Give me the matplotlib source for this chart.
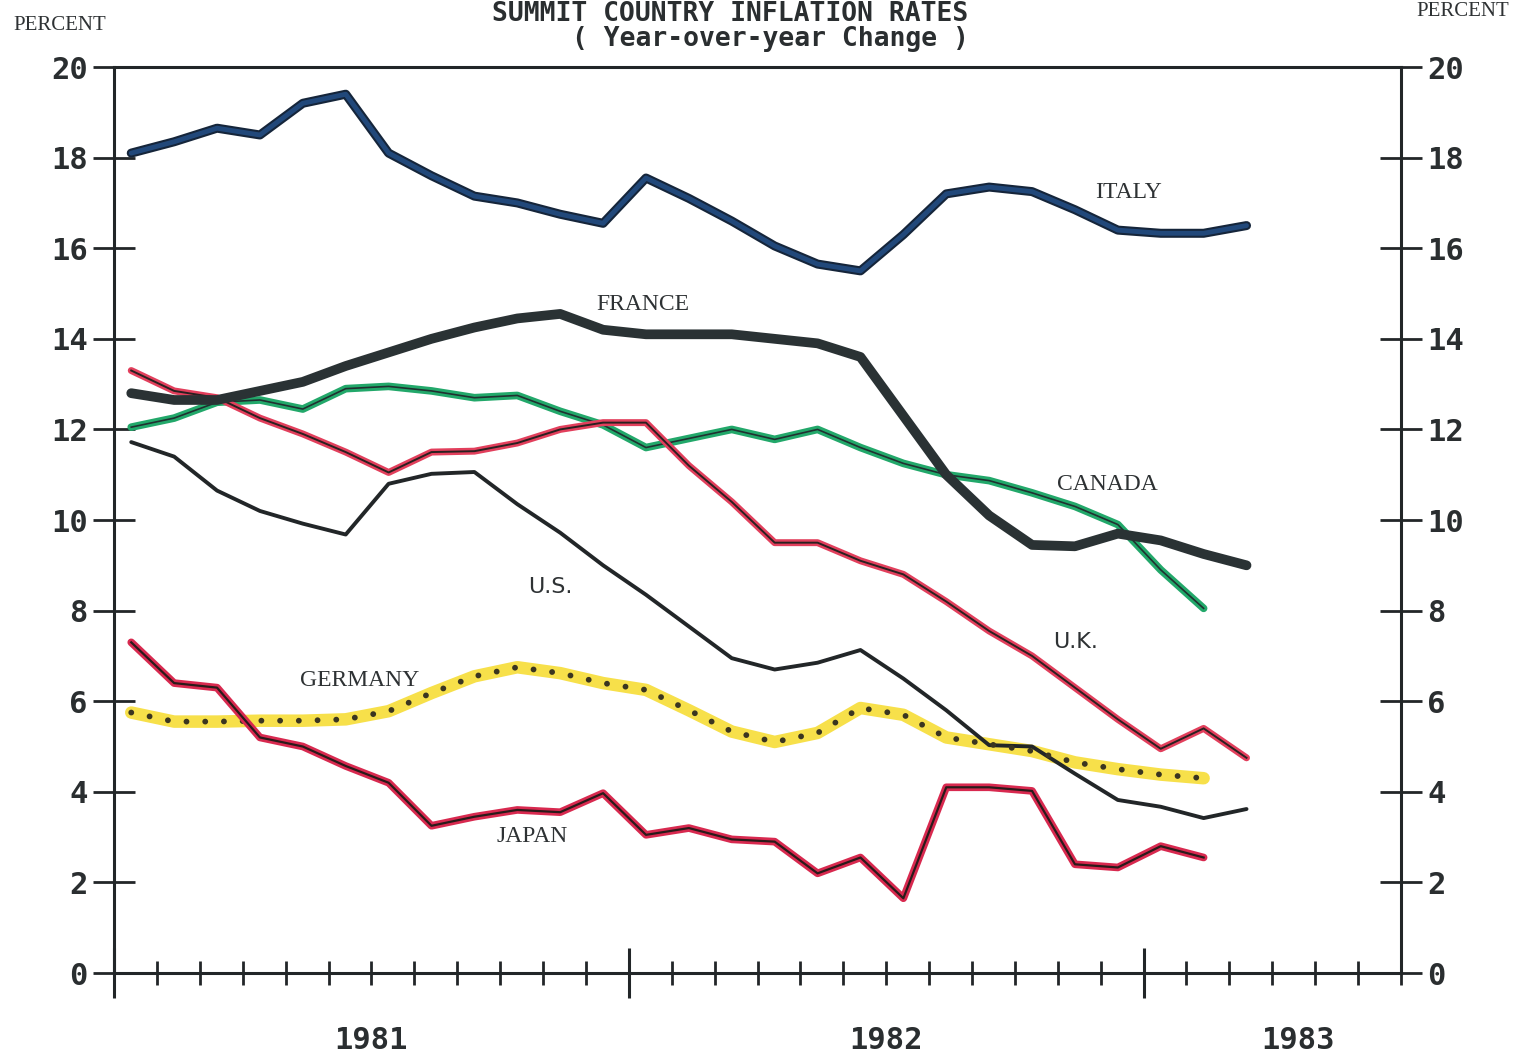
import numpy as np
import matplotlib
matplotlib.use("Agg")
import matplotlib.pyplot as plt
from matplotlib.ticker import MultipleLocator, FixedLocator, NullFormatter
import matplotlib.transforms as mtransforms

# ---- data (year-over-year % change, monthly from Jan 1981) ----
italy = [18.1, 18.35, 18.65, 18.5, 19.2, 19.4, 18.1, 17.6, 17.15, 17.0, 16.75, 16.55,
         17.55, 17.1, 16.6, 16.05, 15.65, 15.5, 16.3, 17.2, 17.35, 17.25, 16.85, 16.4,
         16.33, 16.33, 16.5]
france = [12.8, 12.65, 12.65, 12.85, 13.05, 13.4, 13.7, 14.0, 14.25, 14.45, 14.55, 14.2,
          14.1, 14.1, 14.1, 14.0, 13.9, 13.6, 12.3, 11.0, 10.1, 9.45, 9.42, 9.7,
          9.55, 9.25, 9.0]
canada = [12.05, 12.25, 12.6, 12.65, 12.45, 12.9, 12.95, 12.85, 12.7, 12.75, 12.4, 12.1,
          11.6, 11.8, 12.0, 11.78, 12.0, 11.6, 11.25, 11.0, 10.87, 10.6, 10.3, 9.9,
          8.9, 8.05]
uk = [13.3, 12.85, 12.7, 12.25, 11.9, 11.5, 11.05, 11.5, 11.52, 11.7, 12.0, 12.15,
      12.15, 11.2, 10.4, 9.5, 9.5, 9.1, 8.8, 8.2, 7.55, 7.0, 6.3, 5.6,
      4.95, 5.4, 4.75]
us = [11.72, 11.4, 10.65, 10.2, 9.92, 9.68, 10.8, 11.02, 11.06, 10.35, 9.72, 9.0,
      8.35, 7.65, 6.95, 6.7, 6.85, 7.13, 6.5, 5.8, 5.03, 5.0, 4.4, 3.82,
      3.67, 3.42, 3.62]
germany = [5.75, 5.55, 5.55, 5.57, 5.57, 5.6, 5.78, 6.18, 6.55, 6.75, 6.62, 6.4,
           6.25, 5.8, 5.33, 5.1, 5.3, 5.85, 5.7, 5.2, 5.05, 4.9, 4.65, 4.5,
           4.38, 4.3]
japan = [7.3, 6.4, 6.3, 5.2, 5.0, 4.57, 4.2, 3.25, 3.45, 3.6, 3.55, 3.97,
         3.05, 3.2, 2.95, 2.9, 2.2, 2.55, 1.65, 4.1, 4.1, 4.02, 2.4, 2.33,
         2.8, 2.55]

start_year = 1981
year_labels = ["1981", "1982", "1983"]
y_ticks = list(range(0, 21, 2))


def months(n):
    # position of each monthly observation on a decimal-year axis
    return start_year + (np.arange(n) + 0.4) / 12.0


fig = plt.figure(figsize=(15.17, 10.59), dpi=100)
fig.patch.set_facecolor("white")
ax = fig.add_axes([0.0752, 0.0812, 0.8483, 0.8555])
ax.set_xlim(1981.0, 1983.5)
ax.set_ylim(0, 20)

ink = "#222628"

# Italy
ax.plot(months(len(italy)), italy, color="#15253a", lw=6.5, solid_capstyle="round", zorder=3)
ax.plot(months(len(italy)), italy, color="#21487a", lw=3.5, solid_capstyle="round", zorder=3)
# France
ax.plot(months(len(france)), france, color="#2a3234", lw=7, solid_capstyle="round", zorder=4)
# Canada
ax.plot(months(len(canada)), canada, color="#22a86a", lw=5.5, solid_capstyle="round", zorder=3)
ax.plot(months(len(canada)), canada, color="#203030", lw=1.2, zorder=3)
# U.K.
ax.plot(months(len(uk)), uk, color="#e23f5c", lw=5, solid_capstyle="round", zorder=3)
ax.plot(months(len(uk)), uk, color="#2a2020", lw=1.4, zorder=3)
# U.S.
ax.plot(months(len(us)), us, color=ink, lw=2.8, solid_capstyle="round", zorder=3)
# Germany
ax.plot(months(len(germany)), germany, color="#f7e04a", lw=9, solid_capstyle="round", zorder=2)
ax.plot(months(len(germany)), germany, color="#3a3520", lw=4.2,
        linestyle=(0, (0.01, 3.2)), dash_capstyle="round", zorder=3)
# Japan
ax.plot(months(len(japan)), japan, color="#d8294f", lw=5.5, solid_capstyle="round", zorder=3)
ax.plot(months(len(japan)), japan, color="#2a1a1a", lw=1.6, zorder=3)

# ---- axes styling ----
for s in ax.spines.values():
    s.set_linewidth(2.2)
    s.set_color(ink)

ax.yaxis.set_major_locator(FixedLocator(y_ticks))
ax.tick_params(axis="y", which="major", direction="inout", length=30, width=2,
               color=ink, left=True, right=True, labelleft=True, labelright=True, pad=4)
for lab in ax.get_yticklabels():
    lab.set_fontfamily("DejaVu Sans Mono")
    lab.set_fontweight("bold")
    lab.set_fontsize(22)
    lab.set_color("#2a2e30")

ax.xaxis.set_major_locator(FixedLocator([1981, 1982, 1983]))
ax.xaxis.set_minor_locator(MultipleLocator(1 / 12))
ax.xaxis.set_major_formatter(NullFormatter())
ax.tick_params(axis="x", which="major", direction="inout", length=36, width=2.2, color=ink)
ax.tick_params(axis="x", which="minor", direction="inout", length=17, width=2, color=ink)
ax.tick_params(axis="x", which="both", top=False)

trans = mtransforms.blended_transform_factory(ax.transData, ax.transAxes)
for lab, xpos in zip(year_labels, [1981.5, 1982.5, 1983.3]):
    ax.text(xpos, -0.074, lab, transform=trans, ha="center", va="center",
            fontsize=22, fontweight="bold", family="DejaVu Sans Mono", color="#2a2e30")

# ---- series labels ----
serif = "Liberation Serif"
lab_color = "#2e3234"


def px(xp, yp):
    return xp / 1517, 1 - yp / 1059


for text, (xp, yp), fam, size in [
    ("ITALY", (1128, 193), serif, 17),
    ("FRANCE", (643, 305), serif, 17),
    ("CANADA", (1107, 485), serif, 17),
    ("U.S.", (550, 587), "DejaVu Sans", 16),
    ("U.K.", (1076, 642), "DejaVu Sans", 16),
    ("GERMANY", (360, 681), serif, 17),
    ("JAPAN", (532, 836), serif, 17),
]:
    fx, fy = px(xp, yp)
    fig.text(fx, fy, text, ha="center", va="center", fontsize=size, family=fam,
             color=lab_color)

# ---- titles ----
fx, fy = px(730, 1)
fig.text(fx, fy, "SUMMIT COUNTRY INFLATION RATES", ha="center", va="top",
         fontsize=19, fontweight="bold", family="DejaVu Sans Mono", color="#2a2e30")
fx, fy = px(770, 39)
fig.text(fx, fy, "( Year-over-year Change )", ha="center", va="center",
         fontsize=19, fontweight="bold", family="DejaVu Sans Mono", color="#2a2e30")
fx, fy = px(60, 26)
fig.text(fx, fy, "PERCENT", ha="center", va="center", fontsize=15, family=serif,
         color=lab_color)
fx, fy = px(1463, 11)
fig.text(fx, fy, "PERCENT", ha="center", va="center", fontsize=15, family=serif,
         color=lab_color)

fig.savefig("out.png", dpi=100, facecolor="white")
